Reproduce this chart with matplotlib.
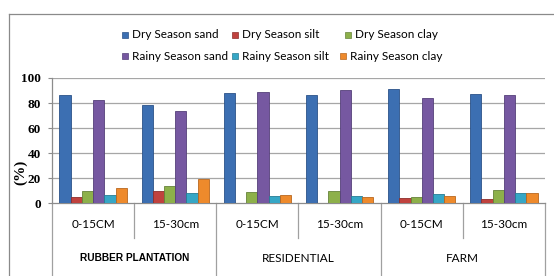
import matplotlib
matplotlib.use("Agg")
import matplotlib.pyplot as plt
from matplotlib.patches import Rectangle
from matplotlib.lines import Line2D
import numpy as np

depths = ["0-15CM", "15-30cm", "0-15CM", "15-30cm", "0-15CM", "15-30cm"]
land_uses = ["RUBBER PLANTATION", "RESIDENTIAL", "FARM"]
series_names = ["Dry Season sand", "Dry Season silt", "Dry Season clay",
                "Rainy Season sand", "Rainy Season silt", "Rainy Season clay"]
dry_sand = [86.2, 78.6, 87.8, 86.2, 91.0, 87.2]
dry_silt = [5.4, 9.5, 0.5, 0.5, 4.4, 3.6]
dry_clay = [10.0, 13.5, 8.7, 9.5, 4.9, 10.5]
rainy_sand = [82.4, 73.6, 88.8, 90.2, 84.0, 86.8]
rainy_silt = [7.0, 8.4, 6.2, 6.2, 7.6, 8.4]
rainy_clay = [12.5, 19.0, 6.4, 4.9, 5.7, 8.0]
yticks = [0, 20, 40, 60, 80, 100]

series = [dry_sand, dry_silt, dry_clay, rainy_sand, rainy_silt, rainy_clay]
colors = ["#3C6FB2", "#C0423E", "#8DB04A", "#7658A1", "#36A7C6", "#EE8A2C"]
edges = ["#2B5288", "#8E2E2B", "#66833A", "#55407A", "#267C94", "#B8671F"]

W, H = 554, 276
fig = plt.figure(figsize=(W / 100, H / 100), dpi=100)

def fx(px):
    return px / W

def fy(py):
    return 1 - py / H

left, right, top, bottom = 52, 545, 78, 203.3
ax = fig.add_axes([fx(left), fy(bottom), fx(right - left), (bottom - top) / H])

n = len(depths)
x = np.arange(n)
nb = len(series)
group_frac = 0.82
bw = group_frac / nb
for i, (vals, c, ec) in enumerate(zip(series, colors, edges)):
    off = -group_frac / 2 + bw * (i + 0.5)
    ax.bar(x + off, vals, width=bw, color=c, edgecolor=ec, linewidth=0.6, zorder=3)

ax.set_xlim(-0.5, n - 0.5)
ax.set_ylim(0, 100)
ax.set_yticks(yticks)
ax.set_yticklabels([str(v) for v in yticks], fontfamily="Liberation Serif",
                   fontweight="bold", fontsize=9.5)
ax.tick_params(axis="y", length=3, color="#8C8C8C", pad=5)
ax.set_xticks([])
for v in yticks[1:]:
    ax.axhline(v, color="#A6A6A6", linewidth=0.9, zorder=1)
for s in ["top", "right"]:
    ax.spines[s].set_visible(False)
for s in ["left", "bottom"]:
    ax.spines[s].set_color("#8C8C8C")
    ax.spines[s].set_linewidth(0.9)

def ay(py):
    return (bottom - py) / (bottom - top)

ax.text((21 - left) / (right - left), ay(172), "(%)", transform=ax.transAxes, rotation=90,
        fontfamily="Liberation Serif", fontweight="bold", fontsize=11,
        ha="center", va="center")

# multi-level category axis
trans = ax.get_xaxis_transform()
for b in np.arange(-0.5, n, 1.0):
    is_long = (int(round(b + 0.5)) % 2 == 0)
    yend = 276 if is_long else 238
    ax.add_line(Line2D([b, b], [0, ay(yend)], transform=trans, color="#A0A0A0",
                       linewidth=0.9, clip_on=False))
for xi, lab in zip(x, depths):
    ax.text(xi, ay(224), lab, transform=trans, ha="center", va="center",
            fontfamily="Lato", fontsize=8.5, clip_on=False)
for gi, lab in enumerate(land_uses):
    if gi == 0:
        ax.text(2 * gi + 0.5, ay(258), lab, transform=trans, ha="center", va="center",
                fontfamily="Liberation Sans", fontweight="bold", fontsize=7.3)
    else:
        ax.text(2 * gi + 0.5, ay(258), lab, transform=trans, ha="center", va="center",
                fontfamily="Lato", fontsize=8.5)

# outer chart border
fig.add_artist(Line2D([fx(8.5), 1], [fy(13.5), fy(13.5)], color="#8A8A8A", linewidth=0.9))
fig.add_artist(Line2D([fx(8.5), fx(8.5)], [fy(13.5), 0], color="#8A8A8A", linewidth=0.9))

# legend
leg_x = [[125, 235, 348], [125, 235, 343]]
leg_y = [35, 56]
for i, name in enumerate(series_names):
    r, cidx = (0 if i < 3 else 1), i % 3
    px, py = leg_x[r][cidx], leg_y[r]
    fig.add_artist(Rectangle((fx(px - 3), fy(py + 3)), 6 / W, 6 / H,
                             facecolor=colors[i], edgecolor=edges[i], linewidth=0.5))
    fig.text(fx(px + 7), fy(py), name, ha="left", va="center",
             fontfamily="Lato", fontsize=8.5)

fig.savefig("out.png", dpi=100)
